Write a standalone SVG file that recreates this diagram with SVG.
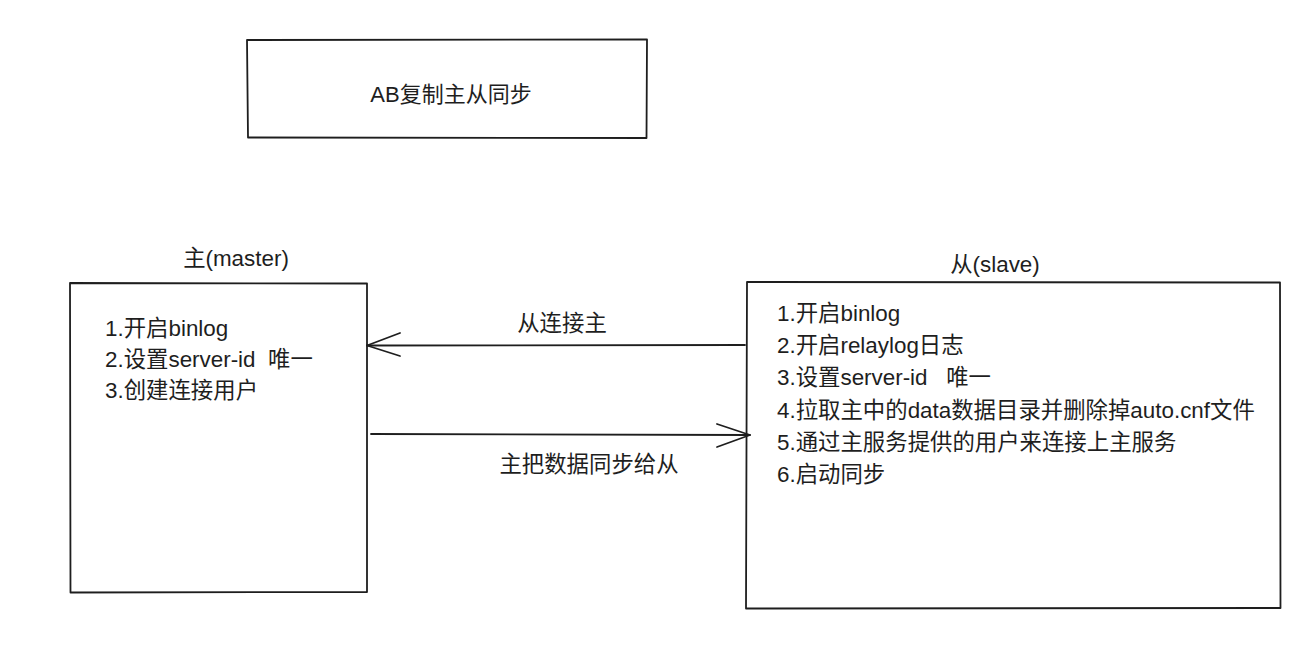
<svg xmlns="http://www.w3.org/2000/svg" width="1296" height="645" viewBox="0 0 1296 645">
<style>
.box{fill:#ffffff;stroke:#1e1e1e;stroke-width:1.8;stroke-linecap:round;stroke-linejoin:round}
.ln{fill:none;stroke:#1e1e1e;stroke-width:1.8;stroke-linecap:round;stroke-linejoin:round}
.t{font-family:"Liberation Sans","Noto Sans CJK SC",sans-serif;font-size:22.4px;fill:#1e1e1e}
.c{text-anchor:middle}
</style>
<rect width="1296" height="645" fill="#ffffff"/>
<g id="title">
<path class="box" d="M247 40 L647 39.5 L646.5 138 L248 137.5 Z"/>
<text class="t c" x="451" y="102" style="font-size:22px">AB复制主从同步</text>
</g>
<g id="master">
<text class="t c" x="236" y="266">主(master)</text>
<path class="box" d="M70 283 L367 283.5 L367 592 L70.5 592.5 Z"/>
<text class="t" x="105" y="336">1.开启binlog</text>
<text class="t" x="105" y="367" xml:space="preserve">2.设置server-id  唯一</text>
<text class="t" x="105" y="398">3.创建连接用户</text>
</g>
<g id="slave">
<text class="t c" x="995" y="272">从(slave)</text>
<path class="box" d="M747 282 L1280 282.5 L1280.5 608 L746 608.5 Z"/>
<text class="t" x="777" y="321">1.开启binlog</text>
<text class="t" x="777" y="353">2.开启relaylog日志</text>
<text class="t" x="777" y="385" xml:space="preserve">3.设置server-id   唯一</text>
<text class="t" x="777" y="418">4.拉取主中的data数据目录并删除掉auto.cnf文件</text>
<text class="t" x="777" y="450">5.通过主服务提供的用户来连接上主服务</text>
<text class="t" x="777" y="482">6.启动同步</text>
</g>
<g id="connectors">
<path class="ln" d="M745 345 L367 345.5"/>
<path class="ln" d="M400 333 L367 345.5 L400 356"/>
<text class="t c" x="562" y="331">从连接主</text>
<path class="ln" d="M371 434 L750 435"/>
<path class="ln" d="M717 424 L750 435 L717 447"/>
<text class="t c" x="589" y="472">主把数据同步给从</text>
</g>
</svg>
